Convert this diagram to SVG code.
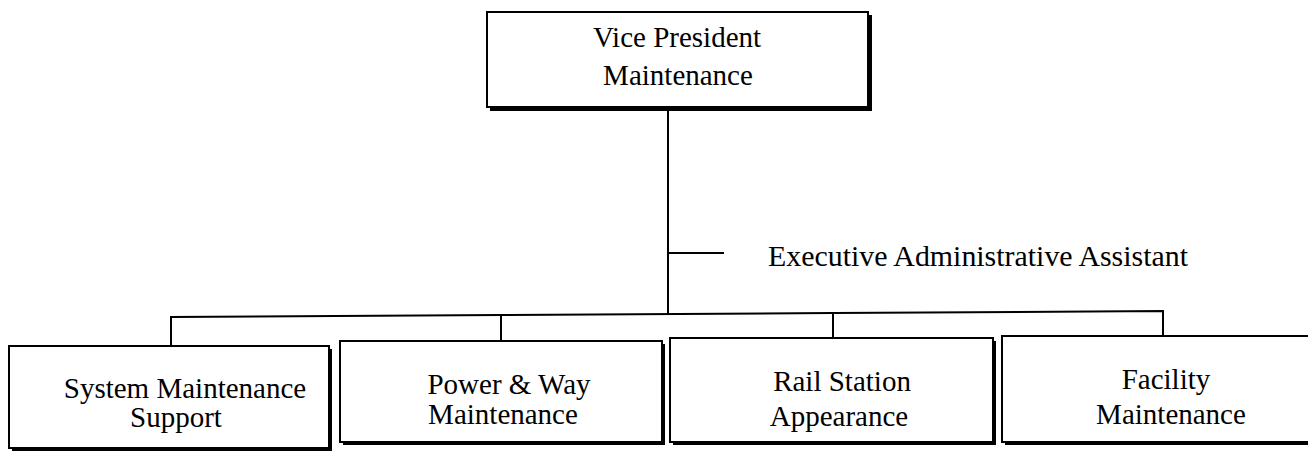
<svg xmlns="http://www.w3.org/2000/svg" width="1308" height="451" viewBox="0 0 1308 451">
<style>
.sh{fill:#000}
.bx{fill:#fff;stroke:#000;stroke-width:2}
.t{font-family:"Liberation Serif","Times New Roman",serif;font-size:29px;fill:#000;text-anchor:middle}
.c{stroke:#000;stroke-width:2;fill:none}
</style>
<rect width="1308" height="451" fill="#fff"/>
<g id="connectors">
<line class="c" x1="668" y1="108" x2="668" y2="314"/>
<line class="c" x1="668" y1="253" x2="724" y2="253"/>
<polyline class="c" points="171,347 171,317 501,315 833,313 1163,311 1163,337"/>
<line class="c" x1="501" y1="315" x2="501" y2="342"/>
<line class="c" x1="833" y1="313" x2="833" y2="339"/>
</g>
<g id="vp">
<rect class="sh" x="490" y="15" width="382" height="96"/>
<rect class="bx" x="487" y="12" width="381" height="95"/>
<text class="t" x="677" y="47">Vice President</text>
<text class="t" x="678" y="85">Maintenance</text>
</g>
<g id="eaa">
<text class="t" x="768" y="266" style="text-anchor:start" textLength="420" lengthAdjust="spacingAndGlyphs">Executive Administrative Assistant</text>
</g>
<g id="sms">
<rect class="sh" x="12" y="349" width="320" height="102"/>
<rect class="bx" x="9" y="346" width="320" height="102"/>
<text class="t" x="185" y="398">System Maintenance</text>
<text class="t" x="176" y="427">Support</text>
</g>
<g id="pwm">
<rect class="sh" x="343" y="344" width="322" height="101"/>
<rect class="bx" x="340" y="341" width="322" height="101"/>
<text class="t" x="509" y="394">Power &amp; Way</text>
<text class="t" x="503" y="424">Maintenance</text>
</g>
<g id="rsa">
<rect class="sh" x="673" y="341" width="323" height="104"/>
<rect class="bx" x="670" y="338" width="323" height="104"/>
<text class="t" x="842" y="391">Rail Station</text>
<text class="t" x="839" y="426">Appearance</text>
</g>
<g id="fm">
<rect class="sh" x="1005" y="339" width="320" height="106"/>
<rect class="bx" x="1002" y="336" width="320" height="106"/>
<text class="t" x="1166" y="389">Facility</text>
<text class="t" x="1171" y="424">Maintenance</text>
</g>
</svg>
